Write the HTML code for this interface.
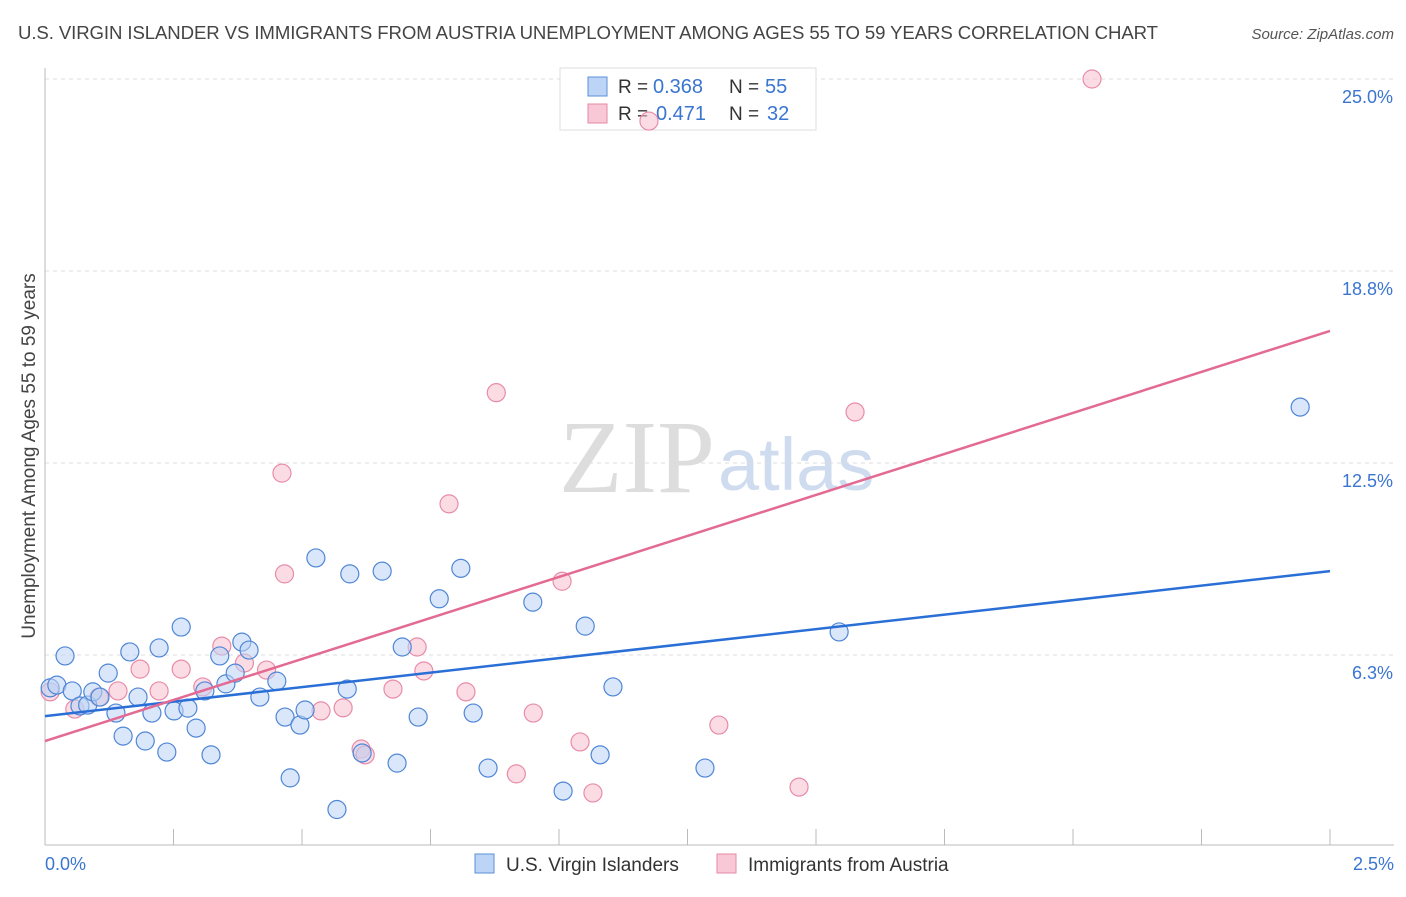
<!DOCTYPE html>
<html><head><meta charset="utf-8"><style>
body{margin:0;background:#fff;font-family:"Liberation Sans",sans-serif;}
</style></head><body>
<svg width="1406" height="892" xmlns="http://www.w3.org/2000/svg" font-family="Liberation Sans, sans-serif">
<text x="18" y="39" font-size="18.6" fill="#444" textLength="1140">U.S. VIRGIN ISLANDER VS IMMIGRANTS FROM AUSTRIA UNEMPLOYMENT AMONG AGES 55 TO 59 YEARS CORRELATION CHART</text>
<text x="1394" y="39" font-size="15" fill="#555" font-style="italic" text-anchor="end">Source: ZipAtlas.com</text>
<text x="715" y="492" font-size="104" fill="#ddd" text-anchor="end" font-family="Liberation Serif, serif">ZIP</text>
<text x="718" y="490" font-size="74" fill="#cfdcf0">atlas</text>
<g id="grid"></g>
<line x1="45" y1="68" x2="45" y2="845" stroke="#bbb"/>
<line x1="45" y1="845" x2="1394" y2="845" stroke="#bbb"/>
<g id="ticks"></g>
<g>
<rect x="560" y="68" width="256" height="62" fill="#fff" stroke="#ddd"/>
<rect x="588" y="77" width="19" height="19" fill="#bcd4f5" stroke="#5b8fd8"/>
<rect x="588" y="104" width="19" height="19" fill="#f9c8d6" stroke="#e58aa6"/>
<text x="618" y="93" font-size="19" fill="#333">R =</text>
<text x="653" y="93" font-size="20" fill="#3a75d0">0.368</text>
<text x="729" y="93" font-size="19" fill="#333">N =</text>
<text x="765" y="93" font-size="20" fill="#3a75d0">55</text>
<text x="618" y="120" font-size="19" fill="#333">R =</text>
<text x="656" y="120" font-size="20" fill="#3a75d0">0.471</text>
<text x="729" y="120" font-size="19" fill="#333">N =</text>
<text x="767" y="120" font-size="20" fill="#3a75d0">32</text>
</g>
<g id="pts"></g>
<g id="lines"></g>
<text x="35" y="456" font-size="19" fill="#444" text-anchor="middle" transform="rotate(-90 35 456)">Unemployment Among Ages 55 to 59 years</text>
<text x="45" y="870" font-size="18" fill="#3a75d0">0.0%</text>
<text x="1394" y="870" font-size="18" fill="#3a75d0" text-anchor="end">2.5%</text>
<g>
<rect x="475" y="854" width="19" height="19" fill="#bcd4f5" stroke="#5b8fd8"/>
<text x="506" y="871" font-size="19" fill="#333">U.S. Virgin Islanders</text>
<rect x="717" y="854" width="19" height="19" fill="#f9c8d6" stroke="#e58aa6"/>
<text x="748" y="871" font-size="19" fill="#333">Immigrants from Austria</text>
</g>
</svg>
<script>
const yTicks=[6.25,12.5,18.75,25];
const yTickLabels=["6.3%","12.5%","18.8%","25.0%"];
const xTicks=[0,0.25,0.5,0.75,1,1.25,1.5,1.75,2,2.25,2.5];
const blueX=[0.01,0.023,0.039,0.053,0.068,0.083,0.093,0.107,0.123,0.138,0.152,0.165,0.181,0.195,0.208,0.222,0.237,0.251,0.265,0.278,0.294,0.311,0.323,0.340,0.352,0.370,0.383,0.397,0.418,0.451,0.467,0.477,0.496,0.506,0.527,0.568,0.588,0.593,0.617,0.656,0.685,0.695,0.726,0.767,0.809,0.833,0.862,0.949,1.008,1.051,1.080,1.105,1.284,1.545,2.442];
const blueY=[5.18,5.27,6.22,5.08,4.59,4.62,5.05,4.88,5.66,4.36,3.61,6.35,4.88,3.45,4.36,6.48,3.09,4.43,7.16,4.52,3.87,5.08,3.0,6.22,5.31,5.66,6.67,6.41,4.88,5.40,4.23,2.25,3.97,4.46,9.41,1.22,5.14,8.89,3.06,8.98,2.73,6.51,4.23,8.08,9.07,4.36,2.57,7.97,1.82,7.19,3.0,5.21,2.57,7.0,14.32];
const pinkX=[0.01,0.058,0.105,0.142,0.185,0.222,0.265,0.307,0.344,0.388,0.431,0.466,0.461,0.537,0.580,0.615,0.623,0.677,0.724,0.737,0.786,0.819,0.878,0.917,0.950,1.006,1.041,1.066,1.175,1.311,1.467,1.576,2.037];
const pinkY=[5.05,4.49,4.88,5.08,5.79,5.08,5.79,5.21,6.54,5.99,5.76,8.89,12.17,4.43,4.53,3.19,3.0,5.14,6.51,5.73,11.17,5.05,14.79,2.38,4.36,8.65,3.42,1.76,23.63,3.97,1.95,14.16,25.0];
const blueTrend=[4.26,8.98];
const pinkTrend=[3.45,16.8];
const NS="http://www.w3.org/2000/svg";
const xs=v=>45+v/2.5*1285, ys=v=>847-v*30.72;
function mk(t,a,p){const e=document.createElementNS(NS,t);for(const k in a)e.setAttribute(k,a[k]);p.appendChild(e);return e;}
const grid=document.getElementById('grid');
yTicks.forEach((v,i)=>{
 const l=mk('line',{x1:45,x2:1394,y1:ys(v),y2:ys(v),stroke:'#ddd','stroke-dasharray':'4,4'},grid);
 
 
 const t=mk('text',{x:1393,y:ys(v)+24,'font-size':18,fill:'#3a75d0','text-anchor':'end'},grid);
 t.textContent=yTickLabels[i];
 
 
});
const ticks=document.getElementById('ticks');
xTicks.forEach(v=>{
 const l=mk('line',{x1:xs(v),x2:xs(v),y1:829,y2:845,stroke:'#bbb'},ticks);
 
 
});
const pts=document.getElementById('pts');
function dots(X,Y,fill,stroke,name){X.forEach((x,i)=>{
 const c=mk('circle',{cx:xs(x),cy:ys(Y[i]),r:9,fill:fill,'fill-opacity':0.55,stroke:stroke,'stroke-width':1.2},pts);
 
 
});}
dots(pinkX,pinkY,'#f7bfd0','#e88ca8','pink-point');
dots(blueX,blueY,'#bcd4f5','#4f86d6','blue-point');
const lines=document.getElementById('lines');
const bl=mk('line',{x1:xs(0),y1:ys(blueTrend[0]),x2:xs(2.5),y2:ys(blueTrend[1]),stroke:'#2a6fd6','stroke-width':2.5},lines);


const pl=mk('line',{x1:xs(0),y1:ys(pinkTrend[0]),x2:xs(2.5),y2:ys(pinkTrend[1]),stroke:'#e36a93','stroke-width':2.5},lines);


</script>
</body></html>
